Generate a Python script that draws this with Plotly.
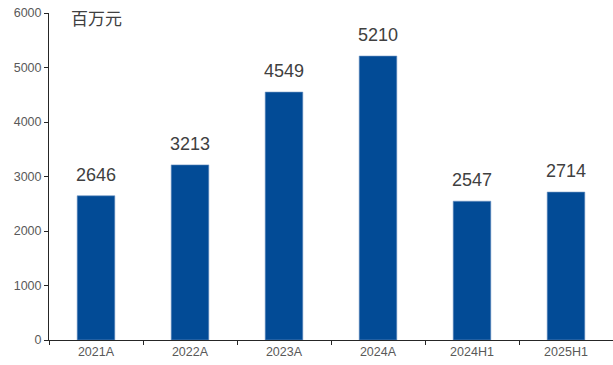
import plotly.graph_objects as go

categories = ["2021A", "2022A", "2023A", "2024A", "2024H1", "2025H1"]
values = [2646, 3213, 4549, 5210, 2547, 2714]
unit_label = "百万元"

bar_color = "#024B96"
font_family = "Liberation Sans, Arial, sans-serif"

fig = go.Figure()
fig.add_trace(go.Bar(
    x=categories,
    y=values,
    width=0.4,
    marker=dict(color=bar_color, line=dict(color="#6f93c2", width=0.6)),
    hoverinfo="skip",
))

# value labels above each bar
for c, v in zip(categories, values):
    fig.add_annotation(
        x=c, y=v, text=str(v), showarrow=False,
        yanchor="bottom", yshift=9,
        font=dict(family=font_family, size=18, color="#404040"),
    )

fig.add_annotation(
    xref="paper", yref="paper", x=0.036, y=0.985,
    xanchor="left", yanchor="middle", text=unit_label, showarrow=False,
    font=dict(family="Noto Sans CJK SC", size=17, color="#404040"),
)

fig.update_layout(
    width=613, height=365,
    margin=dict(l=49, r=0, t=13, b=25),
    paper_bgcolor="white", plot_bgcolor="white",
    showlegend=False,
    bargap=0.6,
)
fig.update_xaxes(
    showline=True, linecolor="#262626", linewidth=1,
    ticks="outside", tickson="boundaries", ticklen=4, tickcolor="#262626",
    tickfont=dict(family=font_family, size=12.5, color="#595959"),
    showgrid=False,
)
fig.update_yaxes(
    range=[0, 6000], dtick=1000,
    showline=True, linecolor="#262626", linewidth=1,
    ticks="outside", ticklen=4, tickcolor="#262626",
    tickfont=dict(family=font_family, size=12.5, color="#595959"),
    showgrid=False, zeroline=False,
)

fig.write_html("out.html")
